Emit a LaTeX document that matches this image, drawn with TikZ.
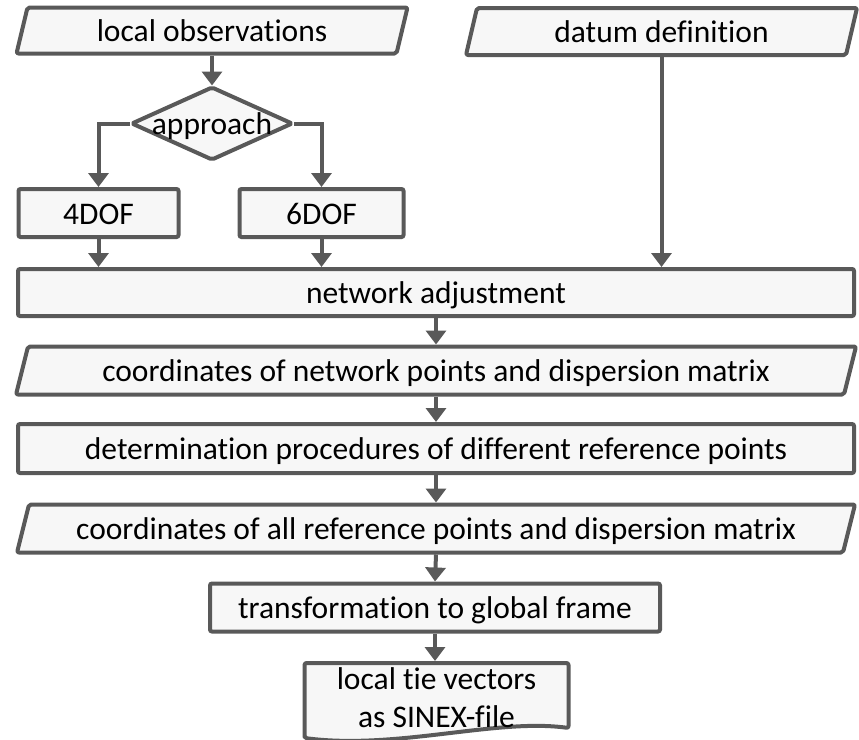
\documentclass[tikz,border=0pt]{standalone}
\usepackage{fontspec}
\setmainfont{Carlito}[Ligatures={NoCommon}]
\usetikzlibrary{arrows.meta,calc,backgrounds}
\definecolor{linegray}{HTML}{595959}
\definecolor{fillgray}{HTML}{F7F7F7}
\newcommand\parashape[4]{%
  \path[shapeline] ($(#1.center)+(-#2-#4,#3)$) -- ($(#1.center)+(-#2+#4,-#3)$) -- ($(#1.center)+(#2+#4,-#3)$) -- ($(#1.center)+(#2-#4,#3)$) -- cycle;}
\begin{document}
\begin{tikzpicture}[x=1pt,y=-1pt,
  every node/.style={inner sep=0pt,outer sep=2pt,text=black,font=\fontsize{31.5}{38}\selectfont},
  txt/.style={text height=22pt,text depth=0pt},
  procbox/.style={txt,draw=linegray,fill=fillgray,line width=4pt,rounded corners=2pt},
  shapeline/.style={draw=linegray,fill=fillgray,line width=4pt,rounded corners=2pt,line join=round},
  flow/.style={draw=linegray,line width=4pt,-{Triangle[width=20pt,length=14pt]}}]

\useasboundingbox (0,0) rectangle (859,739);

% input / output parallelograms (text nodes; shapes drawn on background)
\node[txt,minimum width=380,minimum height=46] (lo) at (212,30.5) {local observations};
\node[txt,minimum width=380,minimum height=47] (dat) at (661.5,31.5) {datum definition};
\node[txt,minimum width=160,minimum height=72] (appr) at (212,123.5) {approach};
\node[procbox,minimum width=160,minimum height=48] (d4) at (98.5,213) {4DOF};
\node[procbox,minimum width=164,minimum height=48] (d6) at (321.5,213) {6DOF};
\node[procbox,minimum width=836,minimum height=47] (net) at (436,292.5) {network adjustment};
\node[txt,minimum width=828,minimum height=48] (cn) at (436,370.5) {coordinates of network points and dispersion matrix};
\node[procbox,minimum width=836,minimum height=49] (det) at (436,448.5) {determination procedures of different reference points};
\node[txt,minimum width=826,minimum height=48] (ca) at (436,528.5) {coordinates of all reference points and dispersion matrix};
\node[procbox,minimum width=450,minimum height=48] (tr) at (435,607.5) {transformation to global frame};
\node[align=center,minimum width=264,minimum height=70] (doc) at (436.5,698) {local tie vectors\\as SINEX-file};

\begin{scope}[on background layer]
  \parashape{lo}{190}{23}{5.5}
  \parashape{dat}{190}{23.5}{5.5}
  \parashape{cn}{414}{24}{6}
  \parashape{ca}{413}{24}{6}
  \path[shapeline] ($(appr.center)+(0,-36)$) -- ($(appr.center)+(80,0)$) -- ($(appr.center)+(0,36)$) -- ($(appr.center)+(-80,0)$) -- cycle;
  \path[shapeline] ($(doc.center)+(-132,40)$) -- ($(doc.center)+(-132,-35)$) -- ($(doc.center)+(132,-35)$) -- ($(doc.center)+(132,30)$)
     .. controls ($(doc.center)+(60,20)$) and ($(doc.center)+(-40,52)$) .. ($(doc.center)+(-132,40)$) -- cycle;
\end{scope}

% connectors
\draw[flow] (lo.south) -- (appr.north);
\draw[flow] (appr.west) -| (d4.north);
\draw[flow] (appr.east) -| (d6.north);
\draw[flow] (d4.south) -- (d4.south |- net.north);
\draw[flow] (d6.south) -- (d6.south |- net.north);
\draw[flow] (dat.south) -- (dat.south |- net.north);
\draw[flow] (net.south) -- (cn.north);
\draw[flow] (cn.south) -- (det.north);
\draw[flow] (det.south) -- (ca.north);
\draw[flow] (ca.south) -- (tr.north);
\draw[flow] (tr.south) -- (tr.south |- doc.north);
\end{tikzpicture}
\end{document}
